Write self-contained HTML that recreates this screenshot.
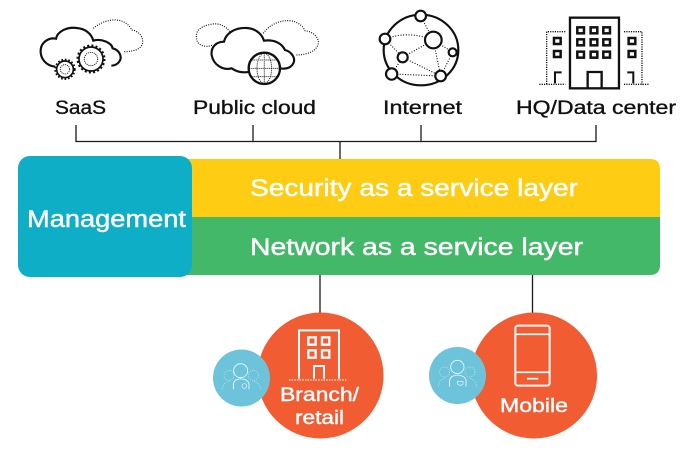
<!DOCTYPE html>
<html><head><meta charset="utf-8">
<style>
html,body{margin:0;padding:0;background:#fff;width:696px;height:451px;overflow:hidden}
svg{display:block}
text{font-family:"Liberation Sans",sans-serif}
</style></head><body>
<svg width="696" height="451" viewBox="0 0 696 451" xmlns="http://www.w3.org/2000/svg">
<!-- connectors -->
<g stroke="#1a1a1a" stroke-width="1.300" fill="none">
<path d="M76 125V141.500H596V125M253 125V141.500M421 125V141.500M340 141.500V160"/>
<path d="M320 275V314M532.500 275V314"/>
</g>

<!-- SaaS icon -->
<g transform="translate(20,0) scale(.3333)" fill="none" stroke="#111">
<path d="M106 200C78 198 60 175 62 150C64 125 88 112 108 116C112 95 140 80 170 84C195 86 214 100 220 122C245 115 275 128 278 145C298 150 308 170 298 185C292 193 284 197 274 197" stroke-width="6.500"/>
<path d="M220 85C235 72 262 58 290 60C315 62 330 78 335 90C355 92 370 110 368 128C365 148 340 155 310 155" stroke-width="3.500" stroke-dasharray="3 4"/>
<circle cx="213" cy="177" r="36" fill="#fff" stroke-width="5"/>
<circle cx="213" cy="177" r="40" stroke-width="7" stroke-dasharray="6 6.560"/>
<circle cx="213" cy="177" r="20" stroke-width="3" stroke-dasharray="3 3"/>
<circle cx="135" cy="208" r="25" fill="#fff" stroke-width="5"/>
<circle cx="135" cy="208" r="29" stroke-width="6" stroke-dasharray="5 5.400"/>
<circle cx="135" cy="208" r="14" stroke-width="3" stroke-dasharray="3 3"/>
</g>

<!-- Public cloud icon -->
<g transform="translate(20,0) scale(.3333)" fill="none" stroke="#111">
<path d="M630 95C610 70 585 68 565 75C540 80 525 95 530 115C530 135 555 145 578 135" stroke-width="3.500" stroke-dasharray="3 4"/>
<path d="M730 100C745 78 775 60 810 62C835 65 850 80 855 92C880 95 897 112 895 130C890 155 860 165 825 165" stroke-width="3.500" stroke-dasharray="3 4"/>
<path d="M690 215C665 220 650 215 635 205C610 212 580 195 575 165C572 140 590 125 612 125C618 100 645 82 680 84C705 85 725 100 732 122C760 118 785 128 795 150C815 155 828 175 820 190C812 205 795 208 780 205" stroke-width="6.500"/>
<circle cx="733" cy="205" r="47" fill="#fff" stroke-width="7"/>
<g stroke-width="3" stroke-dasharray="3 3">
<ellipse cx="733" cy="205" rx="22" ry="45"/>
<path d="M733 160V250M688 205H778M695 180H771M695 230H771"/>
</g>
</g>

<!-- Internet icon -->
<g transform="translate(350,0) scale(.3333)" fill="none" stroke="#111">
<ellipse cx="213" cy="150" rx="112" ry="106" stroke-width="6.500"/>
<path d="M105 117C150 100 200 100 250 120M212 48L250 120M250 120L158 172M250 120L308 157M250 120L272 228M105 117L158 172M158 172L125 222M125 222L272 228M158 172L272 228M272 228L308 157" stroke-width="3.500" stroke-dasharray="3 5"/>
<g fill="#fff" stroke-width="6.500">
<circle cx="212" cy="48" r="16"/>
<circle cx="105" cy="117" r="16"/>
<circle cx="250" cy="120" r="25"/>
<circle cx="158" cy="172" r="15"/>
<circle cx="308" cy="157" r="12"/>
<circle cx="125" cy="222" r="17"/>
<circle cx="272" cy="228" r="16"/>
</g>
</g>

<!-- HQ icon -->
<g transform="translate(350,0) scale(.3333)" fill="none" stroke="#111">
<rect x="660" y="53" width="147" height="212" stroke-width="7"/>
<path d="M713 265V216H755V265" stroke-width="7"/>
<g stroke-width="7.500">
<rect x="682" y="82" width="20" height="18"/><rect x="722" y="82" width="20" height="18"/><rect x="760" y="82" width="20" height="18"/>
<rect x="682" y="118" width="20" height="18"/><rect x="722" y="118" width="20" height="18"/><rect x="760" y="118" width="20" height="18"/>
<rect x="682" y="155" width="20" height="18"/><rect x="722" y="155" width="20" height="18"/><rect x="760" y="155" width="20" height="18"/>
<rect x="612" y="114" width="20" height="18"/><rect x="612" y="153" width="20" height="18"/>
<rect x="836" y="114" width="20" height="18"/><rect x="836" y="153" width="20" height="18"/>
<path d="M615 250V217H635M850 250V217H832" stroke-width="6"/>
</g>
<path d="M646 95H590V253M822 95H876V253M568 253H646M822 253H898" stroke-width="4" stroke-dasharray="3.500 3.500"/>
</g>

<!-- top labels -->
<g fill="#111" font-size="19" stroke="#111" stroke-width=".35">
<text x="55" y="114" textLength="51" lengthAdjust="spacingAndGlyphs">SaaS</text>
<text x="193" y="114" textLength="123" lengthAdjust="spacingAndGlyphs">Public cloud</text>
<text x="383" y="114" textLength="79" lengthAdjust="spacingAndGlyphs">Internet</text>
<text x="516" y="114" textLength="160" lengthAdjust="spacingAndGlyphs">HQ/Data center</text>
</g>

<!-- layers -->
<path d="M180 159H650Q660 159 660 169V217H180Z" fill="#fecc13"/>
<path d="M180 217H660V265Q660 275 650 275H180Z" fill="#43b868"/>
<rect x="18" y="156" width="174" height="121" rx="12" fill="#0eafc6"/>
<g fill="#fff" font-size="24" stroke="#fff" stroke-width=".45">
<text x="250" y="196" textLength="328" lengthAdjust="spacingAndGlyphs">Security as a service layer</text>
<text x="250" y="255" textLength="333" lengthAdjust="spacingAndGlyphs">Network as a service layer</text>
<text x="27" y="227" textLength="159" lengthAdjust="spacingAndGlyphs">Management</text>
</g>

<!-- Branch -->
<circle cx="320.500" cy="375.500" r="63" fill="#f25c33"/>
<circle cx="241.500" cy="378" r="28.500" fill="#6cc3da"/>
<g transform="translate(200,300) scale(.3333)" fill="none" stroke="#fff">
<path d="M297 236V91H417V236" stroke-width="6"/>
<g stroke-width="7">
<rect x="325" y="112" width="22" height="22"/><rect x="366" y="112" width="22" height="22"/>
<rect x="325" y="151" width="22" height="22"/><rect x="366" y="151" width="22" height="22"/>
</g>
<path d="M342 236V198H372V236" stroke-width="6"/>
<path d="M267 240H442" stroke-width="4" stroke-dasharray="4 4"/>
<g stroke-width="2.500" opacity=".9">
<circle cx="122" cy="212" r="21"/>
<path d="M100 268V252Q102 238 122 236Q145 238 147 252V268"/>
<circle cx="133" cy="258" r="7" stroke-width="2"/>
</g>
<g stroke-width="2" stroke-dasharray="3 3" opacity=".6">
<circle cx="87" cy="226" r="15"/><circle cx="160" cy="226" r="15"/>
<path d="M67 268Q70 245 90 243M182 268Q178 245 158 243"/>
</g>
</g>
<g fill="#fff" font-size="19" stroke="#fff" stroke-width=".4">
<text x="280" y="401" textLength="79" lengthAdjust="spacingAndGlyphs">Branch/</text>
<text x="295" y="424" textLength="49" lengthAdjust="spacingAndGlyphs">retail</text>
</g>

<!-- Mobile -->
<circle cx="534" cy="375.500" r="63" fill="#f25c33"/>
<circle cx="457.500" cy="375.500" r="28.500" fill="#6cc3da"/>
<g transform="translate(420,300) scale(.3333)" fill="none" stroke="#fff">
<rect x="286" y="77" width="103" height="180" rx="8" stroke-width="6"/>
<path d="M286 103H389M286 217H389" stroke-width="5"/>
<path d="M321 236H355" stroke-width="5"/>
<g stroke-width="2.500" opacity=".9">
<circle cx="112" cy="201" r="20"/>
<path d="M89 260V240Q92 227 112 225Q135 227 138 240V260"/>
<path d="M113 244H129V252Q122 260 113 252Z" stroke-width="2"/>
</g>
<g stroke-width="2" stroke-dasharray="3 3" opacity=".6">
<circle cx="74" cy="216" r="15"/><circle cx="150" cy="216" r="15"/>
<path d="M55 260Q58 236 78 234M170 260Q166 236 146 234"/>
</g>
</g>
<text x="500" y="412" font-size="19.500" fill="#fff" stroke="#fff" stroke-width=".4" textLength="68" lengthAdjust="spacingAndGlyphs">Mobile</text>
</svg>
</body></html>
